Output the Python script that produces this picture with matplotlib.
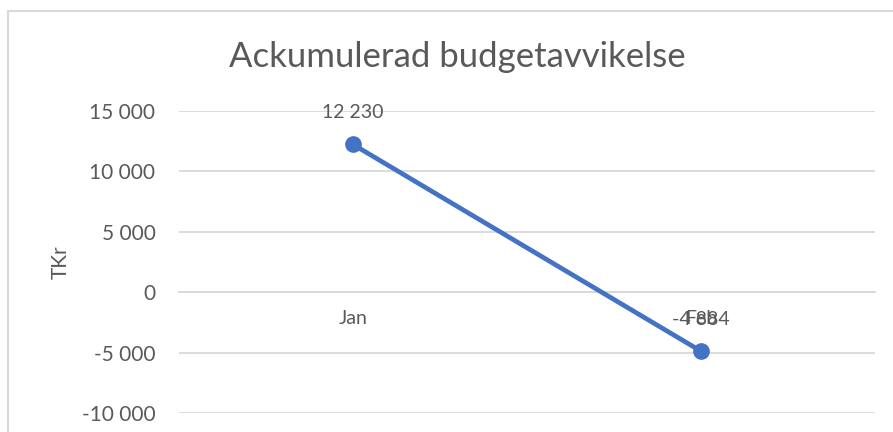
import matplotlib.pyplot as plt
from matplotlib.patches import Rectangle

plt.rcParams['font.family'] = ['Lato', 'DejaVu Sans']

months = ['Jan', 'Feb']
avvikelse = [12230, -4884]
yticks = [-10000, -5000, 0, 5000, 10000, 15000]

grey = '#595959'
gridc = '#D9D9D9'
blue = '#4472C4'


def fmt(v):
    return '{:,}'.format(v).replace(',', ' ')


fig = plt.figure(figsize=(8.93, 4.32), dpi=100)
ax = fig.add_axes([179 / 893, 1 - 413 / 432, (875 - 179) / 893, (413 - 111) / 432])

x = list(range(len(months)))
ax.plot(x, avvikelse, color=blue, linewidth=3.4, marker='o', markersize=11, zorder=3)
for xi, v in zip(x, avvikelse):
    ax.annotate(fmt(v), (xi, v), xytext=(0, 23), textcoords='offset points',
                ha='center', va='center', fontsize=14, color=grey)

ax.set_xlim(-0.5, 1.5)
ax.set_ylim(-10000, 15000)
ax.set_yticks(yticks)
ax.set_yticklabels([fmt(t) for t in yticks])
ax.set_xticks(x)
ax.set_xticklabels(months)
ax.grid(axis='y', color=gridc, linewidth=1.3)
ax.set_axisbelow(True)

for s in ['top', 'right', 'left']:
    ax.spines[s].set_visible(False)
ax.spines['bottom'].set_position(('data', 0))
ax.spines['bottom'].set_color(gridc)
ax.spines['bottom'].set_linewidth(1.3)
ax.tick_params(axis='y', length=0, pad=17, labelsize=15, labelcolor=grey)
ax.tick_params(axis='x', length=0, pad=13, labelsize=14, labelcolor=grey)

ax.set_ylabel('TKr', fontsize=15, color=grey, labelpad=8)

fig.text(457 / 893, 1 - 57 / 432, 'Ackumulerad budgetavvikelse', ha='center', va='center',
         fontsize=25, color=grey)

# chart frame (cropped on right and bottom)
fig.patches.append(Rectangle((8 / 893, -0.2), 1.2, 1.2 - 11 / 432, transform=fig.transFigure,
                             fill=False, edgecolor=gridc, linewidth=1.5))

fig.savefig('out.png', dpi=100)
